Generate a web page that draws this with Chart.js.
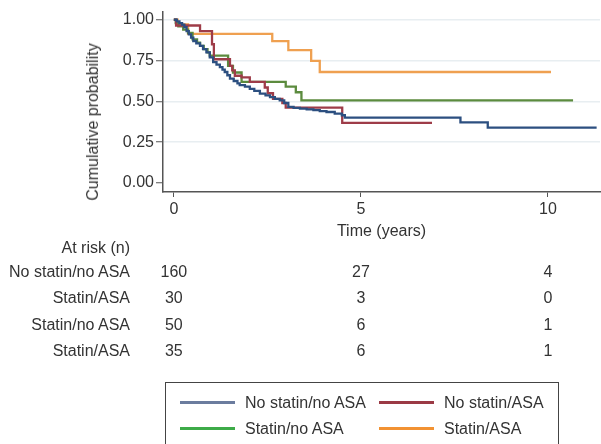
<!DOCTYPE html>
<html>
<head>
<meta charset="utf-8">
<script src="https://cdn.jsdelivr.net/npm/chart.js@4/dist/chart.umd.min.js"></script>
<style>
  body { margin: 0; background: #fff; }
  #wrap { position: relative; width: 601px; height: 444px; overflow: hidden;
          font-family: "Liberation Sans", Arial, sans-serif; font-size: 16px; color: #333; }
  #km { position: absolute; left: 0; top: 0; }
  .ytitle { position: absolute; left: 93px; top: 122px; white-space: nowrap;
            transform: translate(-50%, -50%) rotate(-90deg); line-height: 18px; }
  .rl { position: absolute; right: 471px; line-height: 18px; white-space: nowrap; text-align: right; }
  .rn { position: absolute; width: 40px; line-height: 18px; text-align: center; }
  .legend { position: absolute; left: 165px; top: 382px; width: 392px; height: 80px;
            border: 1.5px solid #444; }
  .li { position: absolute; line-height: 18px; white-space: nowrap; }
  .li span { display: inline-block; width: 55px; height: 3px; vertical-align: middle;
             margin-right: 10px; position: relative; top: -1px; }
</style>
</head>
<body>
<div id="wrap">
  <canvas id="km" width="601" height="444"></canvas>
  <div class="ytitle">Cumulative probability</div>
  <div id="risk"></div>
  <div class="legend" id="legend"></div>
</div>
<script>
// Kaplan-Meier curves (time in years, survival probability)
const noStatinNoAsaT = [0, 0.08, 0.15, 0.22, 0.28, 0.34, 0.40, 0.46, 0.52, 0.60, 0.70, 0.78, 0.87, 0.96,
  1.05, 1.14, 1.23, 1.30, 1.36, 1.43, 1.50, 1.60, 1.70, 1.76, 1.90, 2.03, 2.15, 2.30, 2.45, 2.57,
  2.70, 2.83, 2.95, 3.06, 3.20, 3.37, 3.55, 3.73, 3.90, 4.08, 4.30, 4.49, 4.57, 7.66, 8.39, 11.3];
const noStatinNoAsaS = [1.0, 0.99, 0.98, 0.97, 0.955, 0.93, 0.91, 0.89, 0.87, 0.855, 0.84, 0.82, 0.80, 0.77,
  0.74, 0.725, 0.71, 0.695, 0.68, 0.66, 0.64, 0.625, 0.61, 0.60, 0.59, 0.577, 0.565, 0.547, 0.537, 0.526,
  0.516, 0.506, 0.49, 0.466, 0.46, 0.456, 0.451, 0.446, 0.44, 0.435, 0.425, 0.415, 0.40, 0.371, 0.339, 0.339];

const noStatinAsaT = [0, 0.06, 0.70, 1.02, 1.07, 1.50, 1.56, 1.63, 1.81, 2.03, 2.43, 2.51, 2.65, 2.90, 2.99, 4.50, 6.90];
const noStatinAsaS = [1.0, 0.965, 0.93, 0.85, 0.758, 0.718, 0.69, 0.657, 0.647, 0.62, 0.585, 0.55, 0.516, 0.49, 0.462, 0.369, 0.369];

const statinNoAsaT = [0, 0.05, 0.12, 0.25, 0.38, 0.50, 0.62, 0.70, 0.80, 0.90, 0.96, 1.45, 1.58, 1.81, 2.99, 3.26, 3.41, 10.67];
const statinNoAsaS = [1.0, 0.98, 0.96, 0.94, 0.92, 0.88, 0.86, 0.84, 0.82, 0.80, 0.78, 0.718, 0.677, 0.62, 0.59, 0.556, 0.506, 0.506];

const statinAsaT = [0, 0.10, 0.38, 2.63, 3.06, 3.67, 3.90, 10.08];
const statinAsaS = [1.0, 0.971, 0.913, 0.869, 0.814, 0.748, 0.68, 0.68];

const seriesNames = ['No statin/no ASA', 'No statin/ASA', 'Statin/no ASA', 'Statin/ASA'];
const curveColors = ['#2c4f80', '#9e3c48', '#5c8b3e', '#efa050'];
const legendColors = ['#6b7c9e', '#9b3a45', '#3dab48', '#f29232'];

const yTicks = [0, 0.25, 0.5, 0.75, 1];
const xTicks = [0, 5, 10];

// number at risk table
const riskLabels = ['No statin/no ASA', 'Statin/ASA', 'Statin/no ASA', 'Statin/ASA'];
const riskTimes = [0, 5, 10];
const riskCounts = [[160, 27, 4], [30, 3, 0], [50, 6, 1], [35, 6, 1]];

function toPoints(ts, ss) {
  return ts.map((t, i) => ({ x: t, y: ss[i] }));
}

const curves = [
  toPoints(noStatinNoAsaT, noStatinNoAsaS),
  toPoints(noStatinAsaT, noStatinAsaS),
  toPoints(statinNoAsaT, statinNoAsaS),
  toPoints(statinAsaT, statinAsaS)
];

const font = { family: '"Liberation Sans", Arial, sans-serif', size: 16 };

const chart = new Chart(document.getElementById('km'), {
  type: 'line',
  data: {
    datasets: curves.map((pts, i) => ({
      label: seriesNames[i],
      data: pts,
      borderColor: curveColors[i],
      borderWidth: 2.3,
      pointRadius: 0,
      stepped: 'before',
      fill: false
    }))
  },
  options: {
    responsive: false,
    animation: false,
    layout: { padding: { left: 80, right: 1, top: 10, bottom: 199 } },
    plugins: { legend: { display: false }, tooltip: { enabled: false } },
    scales: {
      x: {
        type: 'linear',
        min: -0.29,
        max: 11.39,
        afterBuildTicks: s => { s.ticks = xTicks.map(v => ({ value: v })); },
        afterFit: s => { s.height = 53; },
        grid: { drawOnChartArea: false, tickLength: 5, tickColor: '#555', tickWidth: 1 },
        border: { display: true, color: '#555', width: 1.5 },
        ticks: { font: font, color: '#333', padding: 3, maxRotation: 0 },
        title: { display: true, text: 'Time (years)', font: font, color: '#333', padding: { top: 4, bottom: 4 } }
      },
      y: {
        min: -0.055,
        max: 1.05,
        afterBuildTicks: s => { s.ticks = yTicks.map(v => ({ value: v })); },
        afterFit: s => { s.width = 83; },
        grid: {
          color: c => (c.tick && c.tick.value === 0) ? 'rgba(0,0,0,0)' : '#e8eef1',
          lineWidth: 1.5,
          tickLength: 7,
          tickColor: '#555',
          tickWidth: 1
        },
        border: { display: true, color: '#555', width: 1.5 },
        ticks: { font: font, color: '#333', padding: 2, callback: v => v.toFixed(2) }
      }
    }
  }
});

// at-risk table, numbers placed under the x scale ticks
const risk = document.getElementById('risk');
const head = document.createElement('div');
head.className = 'rl';
head.style.top = (248 - 9) + 'px';
head.textContent = 'At risk (n)';
risk.appendChild(head);
for (let r = 0; r < riskLabels.length; r++) {
  const y = 272 + r * 26.3;
  const lab = document.createElement('div');
  lab.className = 'rl';
  lab.style.top = (y - 9) + 'px';
  lab.textContent = riskLabels[r];
  risk.appendChild(lab);
  for (let j = 0; j < riskTimes.length; j++) {
    const n = document.createElement('div');
    n.className = 'rn';
    n.style.left = (chart.scales.x.getPixelForValue(riskTimes[j]) - 20) + 'px';
    n.style.top = (y - 9) + 'px';
    n.textContent = riskCounts[r][j];
    risk.appendChild(n);
  }
}

// legend box, two columns
const legend = document.getElementById('legend');
const legendPos = [[14, 11], [213, 11], [14, 37], [213, 37]];
legendColors.forEach((col, k) => {
  const item = document.createElement('div');
  item.className = 'li';
  item.style.left = legendPos[k][0] + 'px';
  item.style.top = legendPos[k][1] + 'px';
  const sw = document.createElement('span');
  sw.style.background = col;
  item.appendChild(sw);
  item.appendChild(document.createTextNode(seriesNames[k]));
  legend.appendChild(item);
});
</script>
</body>
</html>
